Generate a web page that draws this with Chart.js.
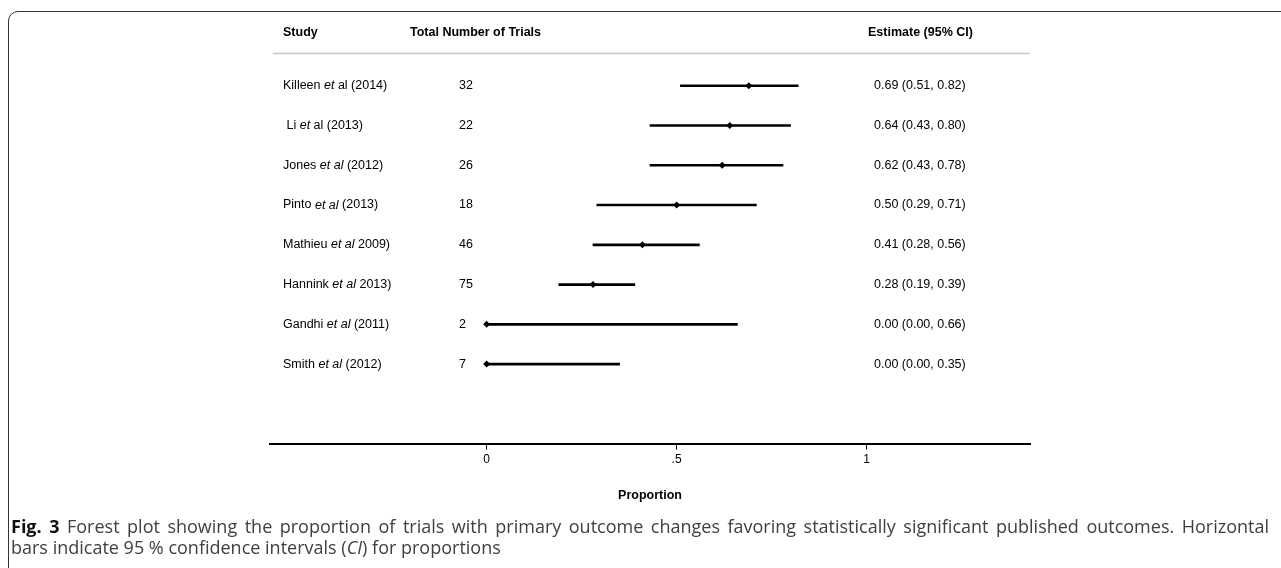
<!DOCTYPE html>
<html>
<head>
<meta charset="utf-8">
<script src="https://cdn.jsdelivr.net/npm/chart.js@4.4.1/dist/chart.umd.min.js"></script>
<style>
  html, body { margin: 0; padding: 0; background: #fff; }
  #wrap { position: relative; width: 1281px; height: 568px; overflow: hidden; }
  #frame { position: absolute; left: 8px; top: 11px; right: -20px; bottom: -20px;
           border: 1.5px solid #333; border-radius: 10px 0 0 0; }
  #forest { position: absolute; left: 0; top: 0; }
  .cap { position: absolute; left: 11px; width: 1258px; font-family: "Open Sans", sans-serif;
         font-size: 18px; color: #404040; line-height: 21px; white-space: nowrap; }
  #cap1 { top: 516px; text-align: justify; text-align-last: justify; white-space: normal; }
  #cap2 { top: 537px; }
  .cap b { color: #111; }
</style>
</head>
<body>
<div id="wrap">
  <div id="frame"></div>
  <canvas id="forest" width="1281" height="568"></canvas>
  <div class="cap" id="cap1"><b>Fig. 3</b> Forest plot showing the proportion of trials with primary outcome changes favoring statistically significant published outcomes. Horizontal</div>
  <div class="cap" id="cap2">bars indicate 95 % confidence intervals (<i>CI</i>) for proportions</div>
</div>
<script>
// study labels, text between underscores is italic
var studies = ['Killeen _et_ al (2014)', ' Li _et_ al (2013)', 'Jones _et al_ (2012)', 'Pinto _et al_ (2013)',
               'Mathieu _et al_ 2009)', 'Hannink _et al_ 2013)', 'Gandhi _et al_ (2011)', 'Smith _et al_ (2012)'];
var trials = [32, 22, 26, 18, 46, 75, 2, 7];
var estimates = [0.69, 0.64, 0.62, 0.50, 0.41, 0.28, 0.00, 0.00];
var lowerCI = [0.51, 0.43, 0.43, 0.29, 0.28, 0.19, 0.00, 0.00];
var upperCI = [0.82, 0.80, 0.78, 0.71, 0.56, 0.39, 0.66, 0.35];
var xTicks = [0, 0.5, 1];
var xTickLabels = ['0', '.5', '1'];
var headers = ['Study', 'Total Number of Trials', 'Estimate (95% CI)'];

var rowFont = '12.5px "Liberation Sans", Arial, sans-serif';

function fmt(v) { return v.toFixed(2); }

var columns = {
  id: 'columns',
  afterDatasetsDraw: function (chart) {
    var ctx = chart.ctx, y = chart.scales.y, area = chart.chartArea;
    ctx.save();
    ctx.textBaseline = 'middle';
    ctx.fillStyle = '#000';
    // header
    ctx.font = 'bold 12.5px "Liberation Sans", Arial, sans-serif';
    var hy = y.getPixelForValue(-0.34);
    ctx.fillText(headers[0], 283, hy);
    ctx.fillText(headers[1], 410, hy);
    ctx.fillText(headers[2], 868, hy);
    // separator
    var sy = Math.round(y.getPixelForValue(0.17)) + 0.5;
    ctx.strokeStyle = '#c8c8c8';
    ctx.lineWidth = 1.5;
    ctx.beginPath();
    ctx.moveTo(area.left + 3, sy);
    ctx.lineTo(area.right, sy);
    ctx.stroke();
    // rows
    studies.forEach(function (s, i) {
      var py = y.getPixelForValue(i + 1);
      var x = 283;
      s.split('_').forEach(function (part, k) {
        ctx.font = (k % 2 ? 'italic ' : '') + rowFont;
        ctx.fillText(part, x, py);
        x += ctx.measureText(part).width;
      });
      ctx.font = rowFont;
      ctx.fillText(String(trials[i]), 459, py);
      ctx.fillText(fmt(estimates[i]) + ' (' + fmt(lowerCI[i]) + ', ' + fmt(upperCI[i]) + ')', 874, py);
    });
    ctx.restore();
  }
};

new Chart(document.getElementById('forest'), {
  type: 'scatter',
  data: {
    datasets: [
      {
        type: 'bar',
        indexAxis: 'y',
        data: studies.map(function (s, i) { return { y: i + 1, x: [lowerCI[i], upperCI[i]] }; }),
        backgroundColor: '#000',
        borderWidth: 0,
        barThickness: 2,
        order: 2
      },
      {
        type: 'scatter',
        data: studies.map(function (s, i) { return { x: estimates[i], y: i + 1 }; }),
        pointStyle: 'rectRot',
        pointRadius: 3.5,
        backgroundColor: '#000',
        borderColor: '#000',
        borderWidth: 0,
        order: 1
      }
    ]
  },
  options: {
    responsive: false,
    animation: false,
    devicePixelRatio: 1,
    layout: { padding: { left: 270, right: 251, top: 46, bottom: 65 } },
    plugins: { legend: { display: false }, tooltip: { enabled: false } },
    scales: {
      x: {
        type: 'linear',
        min: -0.57,
        max: 1.43,
        afterBuildTicks: function (axis) { axis.ticks = xTicks.map(function (v) { return { value: v }; }); },
        ticks: {
          color: '#000',
          font: { family: '"Liberation Sans", Arial, sans-serif', size: 12 },
          padding: 3,
          maxRotation: 0,
          callback: function (v) { return xTickLabels[xTicks.indexOf(v)]; }
        },
        grid: { drawOnChartArea: false, drawTicks: true, tickLength: 6, color: '#000', lineWidth: 1 },
        border: { display: true, color: '#000', width: 2 },
        title: {
          display: true,
          text: 'Proportion',
          color: '#000',
          font: { family: '"Liberation Sans", Arial, sans-serif', size: 12.5, weight: 'bold' },
          padding: { top: 18, bottom: 0 }
        }
      },
      y: {
        type: 'linear',
        reverse: true,
        offset: false,
        min: 0,
        max: 10,
        display: false
      }
    }
  },
  plugins: [columns]
});
</script>
</body>
</html>
